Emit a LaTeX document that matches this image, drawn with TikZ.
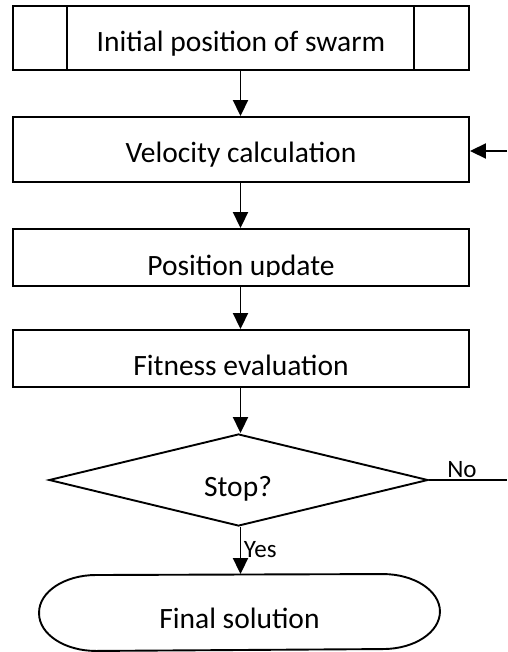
\documentclass[tikz,border=0pt]{standalone}
\usepackage{fontspec}
\setmainfont{Carlito}
\usetikzlibrary{arrows.meta,shapes.geometric}
\begin{document}
\begin{tikzpicture}[x=1pt,y=-1pt,
  line width=1.9pt,
  shapebox/.style={draw, rectangle, inner sep=0pt, minimum width=456pt},
  lbl/.style={anchor=base, inner sep=0pt, font=\fontsize{29.5}{34}\selectfont},
  small/.style={anchor=base, inner sep=0pt, font=\fontsize{25}{29}\selectfont},
  flow/.style={-{Triangle[length=16pt,width=15pt]}}]
\useasboundingbox (0,0) rectangle (507,652);

% process boxes
\node[shapebox, minimum height=64pt] (init) at (241,38) {};
\draw ([xshift=55pt]init.north west) -- ([xshift=55pt]init.south west);
\draw ([xshift=-56pt]init.north east) -- ([xshift=-56pt]init.south east);
\node[lbl] (tinit) at (241,52) {Initial position of swarm};

\node[shapebox, minimum height=65pt] (vel) at (241,149.5) {};
\node[lbl] (tvel) at (241,163) {Velocity calculation};

\node[shapebox, minimum height=57pt] (pos) at (241,257.5) {};
\begin{scope}
  \clip (13,229) rectangle (469,276);
  \node[lbl] (tpos) at (241,275) {Position update};
\end{scope}

\node[shapebox, minimum height=57pt] (fit) at (241,358.5) {};
\node[lbl] (tfit) at (241,375) {Fitness evaluation};

% decision
\node[draw, diamond, inner sep=0pt, minimum width=379pt, minimum height=92pt] (dec) at (238.5,480) {};
\node[lbl] (tdec) at (238,496) {Stop?};

% terminal with elliptical ends (arc angles are in canvas orientation)
\node[inner sep=0pt, minimum width=399pt, minimum height=75pt] (term) at (239.5,612.5) {};
\draw (term.west)
  arc[start angle=180, end angle=90, x radius=57pt, y radius=37.5pt]
  -- ([xshift=-57pt]term.north east)
  arc[start angle=90, end angle=-90, x radius=57pt, y radius=37.5pt]
  -- ([xshift=57pt]term.south west)
  arc[start angle=270, end angle=180, x radius=57pt, y radius=37.5pt] -- cycle;
\node[lbl] (tterm) at (239.5,628) {Final solution};

% connectors
\draw[flow] (init.south -| 240.5,0) -- (vel.north -| 240.5,0);
\draw[flow] (vel.south -| 240.5,0) -- (pos.north -| 240.5,0);
\draw[flow] (pos.south -| 240.5,0) -- (fit.north -| 240.5,0);
\draw[flow] (fit.south -| 240.5,0) -- (dec.north -| 240.5,0);
\draw[flow] (dec.south -| 240.5,0) -- (term.north -| 240.5,0);
\node[small, anchor=base west] (tyes) at (243,557) {Yes};

\coordinate (noend) at (507,480);
\draw (dec.east) -- (noend);
\node[small] (tno) at (462,477) {No};

\coordinate (loopin) at (507,151);
\draw[flow] (loopin) -- (vel.east |- loopin);
\end{tikzpicture}
\end{document}
